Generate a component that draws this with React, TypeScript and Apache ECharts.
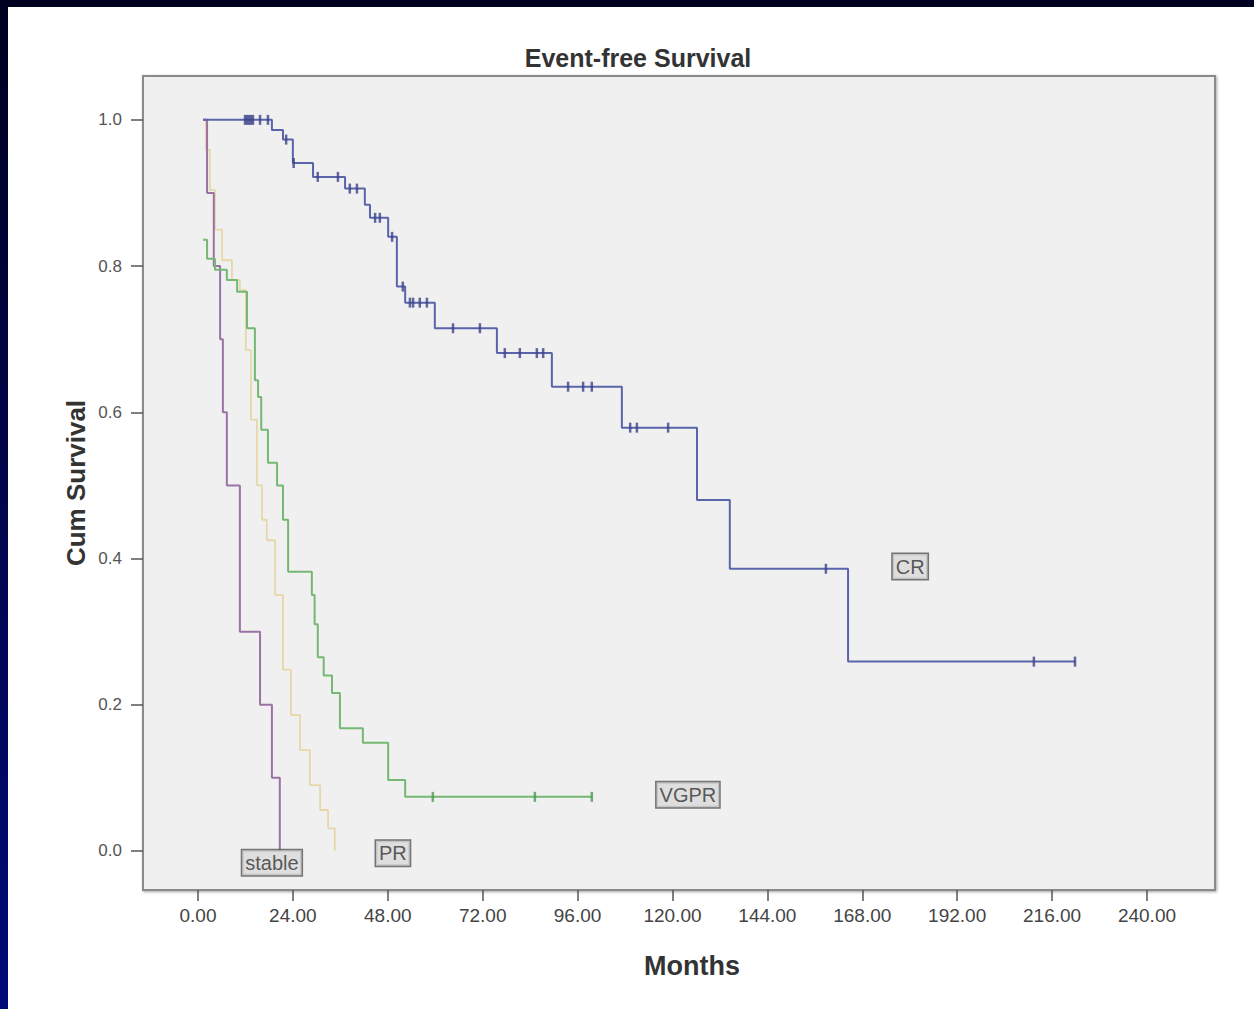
import React, { useEffect, useRef } from "react";
import * as echarts from "echarts";

// ---- data (months, cumulative survival) ----
const crEvents: [number, number][] = [
  [1.3, 1.0], [18.7, 0.986], [21.5, 0.973], [24.0, 0.941], [29.1, 0.922], [37.2, 0.906],
  [42.2, 0.884], [43.5, 0.866], [48.1, 0.84], [50.3, 0.772], [52.4, 0.75], [59.9, 0.715],
  [75.6, 0.681], [89.5, 0.635], [107.2, 0.579], [126.2, 0.48], [134.5, 0.386],
  [164.4, 0.259], [221.8, 0.259],
];
const crCensored: number[] = [
  11.9, 12.4, 12.9, 13.4, 13.9, 15.7, 17.7, 22.3, 24.2, 30.3, 35.4, 38.4, 40.2, 44.8, 46.0,
  49.1, 51.8, 53.6, 54.4, 56.1, 57.9, 64.5, 71.3, 77.6, 81.4, 85.7, 87.3, 93.6, 97.4, 99.6,
  109.3, 111.0, 118.9, 158.8, 211.4, 221.8,
];
const vgprEvents: [number, number][] = [
  [1.3, 0.836], [2.3, 0.81], [4.3, 0.795], [7.3, 0.781], [9.9, 0.765], [12.4, 0.715],
  [14.4, 0.644], [15.2, 0.621], [16.0, 0.576], [17.7, 0.531], [20.0, 0.5], [21.5, 0.453],
  [22.8, 0.382], [28.8, 0.35], [29.5, 0.31], [30.3, 0.265], [31.8, 0.24], [33.9, 0.216],
  [35.9, 0.168], [41.7, 0.148], [48.1, 0.097], [52.4, 0.074], [99.6, 0.074],
];
const vgprCensored: number[] = [59.4, 85.2, 99.6];
const prEvents: [number, number][] = [
  [1.3, 1.0], [2.0, 0.959], [3.0, 0.904], [4.3, 0.85], [6.1, 0.808], [8.6, 0.781],
  [10.6, 0.767], [12.1, 0.685], [13.4, 0.59], [14.9, 0.5], [16.2, 0.453], [17.4, 0.425],
  [19.5, 0.35], [21.5, 0.248], [23.5, 0.186], [25.8, 0.138], [28.3, 0.09], [30.9, 0.056],
  [32.9, 0.031], [34.6, 0.0],
];
const stableEvents: [number, number][] = [
  [1.3, 1.0], [2.3, 0.9], [4.0, 0.8], [5.6, 0.7], [6.3, 0.6], [7.3, 0.5], [10.6, 0.3],
  [15.7, 0.2], [18.7, 0.1], [20.7, 0.0],
];
const groupLabels: string[] = ["CR", "VGPR", "PR", "stable"];
const groupLabelX: number[] = [180.1, 123.9, 49.3, 18.7];
const groupLabelY: number[] = [0.389, 0.077, -0.003, -0.016];
const xTicks: number[] = [0, 24, 48, 72, 96, 120, 144, 168, 192, 216, 240];
const yTicks: number[] = [0, 0.2, 0.4, 0.6, 0.8, 1.0];

const FONT = "'Liberation Sans', Arial, sans-serif";

function survivalAt(events: [number, number][], t: number): number {
  let s = 1;
  for (const [et, es] of events) {
    if (et <= t) s = es;
  }
  return s;
}

export default function App() {
  const ref = useRef<HTMLDivElement>(null);
  useEffect(() => {
    if (!ref.current) return;
    const chart = echarts.init(ref.current, undefined, { renderer: "svg" });
    const stepLine = (name: string, data: [number, number][], color: string, width: number) => ({
      name,
      type: "line",
      step: "end",
      data,
      symbol: "none",
      lineStyle: { color, width },
      z: 3,
    });
    const censor = (name: string, events: [number, number][], times: number[], color: string) => ({
      name,
      type: "scatter",
      data: times.map((t) => [t, survivalAt(events, t)]),
      symbol: "rect",
      symbolSize: [2.5, 10],
      itemStyle: { color },
      z: 4,
    });
    chart.setOption({
      animation: false,
      backgroundColor: "#ffffff",
      grid: {
        left: 143,
        top: 76,
        width: 1072,
        height: 814,
        show: true,
        backgroundColor: "#f0f0f0",
        borderColor: "#8a8a8a",
        borderWidth: 2,
        shadowColor: "rgba(0,0,0,0.35)",
        shadowBlur: 3,
        shadowOffsetX: 1,
        shadowOffsetY: 1,
      },
      xAxis: {
        type: "value",
        position: "bottom",
        min: -13.9,
        max: 257.2,
        axisLine: { show: false, onZero: false },
        splitLine: { show: false },
        axisTick: { show: true, inside: false, length: 11, customValues: xTicks, lineStyle: { color: "#555", width: 1.5 } },
        axisLabel: {
          customValues: xTicks,
          formatter: (v: number) => v.toFixed(2),
          margin: 16,
          fontSize: 19,
          color: "#444",
          fontFamily: FONT,
        },
      },
      yAxis: {
        type: "value",
        position: "left",
        min: -0.0534,
        max: 1.06,
        axisLine: { show: false, onZero: false },
        splitLine: { show: false },
        axisTick: { show: true, inside: false, length: 12, customValues: yTicks, lineStyle: { color: "#555", width: 1.5 } },
        axisLabel: {
          customValues: yTicks,
          formatter: (v: number) => v.toFixed(1),
          margin: 21,
          fontSize: 17,
          color: "#555",
          fontFamily: FONT,
        },
      },
      series: [
        stepLine("PR", prEvents, "#e6d8a8", 1.8),
        stepLine("stable", stableEvents, "#9c72a4", 2),
        stepLine("VGPR", vgprEvents, "#74b874", 2),
        stepLine("CR", crEvents, "#5a64aa", 2),
        censor("CR censored", crEvents, crCensored, "#3c4488"),
        censor("VGPR censored", vgprEvents, vgprCensored, "#4f9a4f"),
        {
          name: "labels",
          type: "scatter",
          symbolSize: 0,
          data: groupLabels.map((n, i) => ({ name: n, value: [groupLabelX[i], groupLabelY[i]] })),
          label: {
            show: true,
            position: "inside",
            formatter: "{b}",
            fontSize: 20,
            color: "#333",
            fontFamily: FONT,
            backgroundColor: "#d9d9d9",
            borderColor: "#555",
            borderWidth: 1.5,
            padding: [3, 3, 2, 3],
          },
          z: 5,
        },
      ],
      graphic: [
        {
          type: "rect",
          shape: { x: 0, y: 0, width: 8, height: 1009 },
          style: {
            fill: new echarts.graphic.LinearGradient(0, 0, 0, 1, [
              { offset: 0, color: "#000020" },
              { offset: 1, color: "#000a78" },
            ]),
          },
          z: 10,
        },
        {
          type: "rect",
          shape: { x: 0, y: 0, width: 1254, height: 7 },
          style: { fill: "#000020" },
          z: 10,
        },
        {
          type: "text",
          x: 638,
          y: 58,
          style: {
            text: "Event-free Survival",
            fontSize: 25,
            fontWeight: "bold",
            fill: "#333",
            fontFamily: FONT,
            align: "center",
            verticalAlign: "middle",
          },
        },
        {
          type: "text",
          x: 692,
          y: 966,
          style: {
            text: "Months",
            fontSize: 27,
            fontWeight: "bold",
            fill: "#333",
            fontFamily: FONT,
            align: "center",
            verticalAlign: "middle",
          },
        },
        {
          type: "text",
          x: 76,
          y: 483,
          rotation: Math.PI / 2,
          style: {
            text: "Cum Survival",
            fontSize: 26,
            fontWeight: "bold",
            fill: "#333",
            fontFamily: FONT,
            align: "center",
            verticalAlign: "middle",
          },
        },
      ],
    });
    return () => chart.dispose();
  }, []);
  return (
    <div
      ref={ref}
      style={{ position: "absolute", left: 0, top: 0, width: 1254, height: 1009, background: "#fff" }}
    />
  );
}
